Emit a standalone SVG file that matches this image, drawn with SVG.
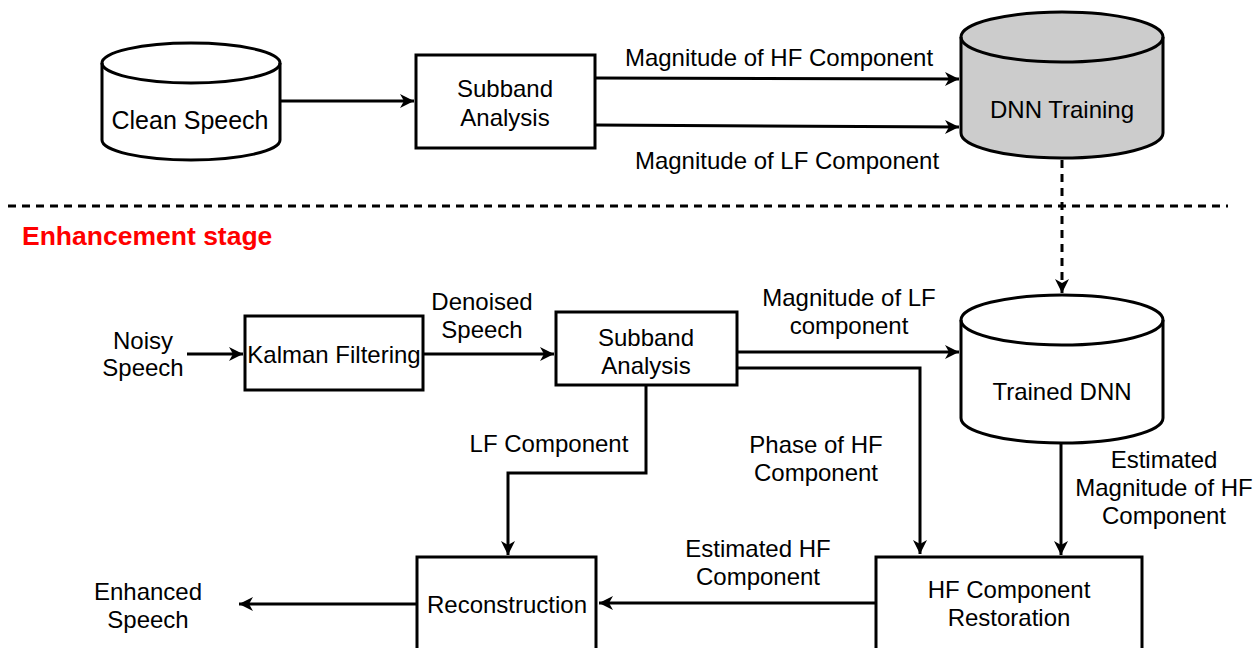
<svg xmlns="http://www.w3.org/2000/svg" width="1260" height="648" viewBox="0 0 1260 648">
<style>
  text { font-family: "Liberation Sans", Arial, sans-serif; font-size: 24px; fill: #000; text-anchor: middle; }
  .box { fill: #fff; stroke: #000; stroke-width: 3; }
  .cyl { fill: #fff; stroke: #000; stroke-width: 3; }
  .grey { fill: #cccccc; }
  .edge { fill: none; stroke: #000; stroke-width: 3; }
  .dash { stroke-dasharray: 8 6; }
  .title { font-weight: bold; fill: #ff0000; font-size: 26.5px; text-anchor: start; }
</style>
<defs>
  <marker id="arr" markerUnits="userSpaceOnUse" markerWidth="16" markerHeight="16" viewBox="0 0 16 16" refX="15" refY="8" orient="auto">
    <path d="M1,1 L15,8 L1,15 L5,8 Z" fill="#000"/>
  </marker>
</defs>
<rect width="1260" height="648" fill="#fff"/>

<line x1="8" y1="206" x2="1228" y2="206" class="edge dash"/>
<text class="title" x="22" y="245">Enhancement stage</text>

<g id="connectors">
  <path class="edge" d="M280,101 L414,101" marker-end="url(#arr)"/>
  <path class="edge" d="M595,78 L959,79" marker-end="url(#arr)"/>
  <path class="edge" d="M595,125 L959,127" marker-end="url(#arr)"/>
  <path class="edge dash" d="M1062,160 L1062,293" marker-end="url(#arr)"/>
  <path class="edge" d="M187,354 L243,354" marker-end="url(#arr)"/>
  <path class="edge" d="M423,354 L554,354" marker-end="url(#arr)"/>
  <path class="edge" d="M737,352 L959,352" marker-end="url(#arr)"/>
  <path class="edge" d="M737,368 L920,368 L920,554" marker-end="url(#arr)"/>
  <path class="edge" d="M646,385 L646,473 L508,473 L508,555" marker-end="url(#arr)"/>
  <path class="edge" d="M1061,443 L1061,555" marker-end="url(#arr)"/>
  <path class="edge" d="M876,603 L599,603" marker-end="url(#arr)"/>
  <path class="edge" d="M416,604 L239,604" marker-end="url(#arr)"/>

  <text x="779" y="66">Magnitude of HF Component</text>
  <text x="787" y="169">Magnitude of LF Component</text>
  <text x="143" y="349">Noisy</text>
  <text x="143" y="376">Speech</text>
  <text x="482" y="310">Denoised</text>
  <text x="482" y="338">Speech</text>
  <text x="849" y="306">Magnitude of LF</text>
  <text x="849" y="334">component</text>
  <text x="549" y="452">LF Component</text>
  <text x="816" y="453">Phase of HF</text>
  <text x="816" y="481">Component</text>
  <text x="1164" y="468">Estimated</text>
  <text x="1164" y="496">Magnitude of HF</text>
  <text x="1164" y="524">Component</text>
  <text x="758" y="557">Estimated HF</text>
  <text x="758" y="585">Component</text>
  <text x="148" y="600">Enhanced</text>
  <text x="148" y="628">Speech</text>
</g>

<g id="clean-speech">
  <path class="cyl" d="M102,63 A89,20 0 0 1 280,63 L280,140 A89,20 0 0 1 102,140 Z"/>
  <path class="edge" d="M102,63 A89,20 0 0 0 280,63"/>
  <text x="190" y="129" style="font-size:25px">Clean Speech</text>
</g>

<g id="subband-top">
  <rect class="box" x="416" y="55" width="179" height="93"/>
  <text x="505" y="97">Subband</text>
  <text x="505" y="126">Analysis</text>
</g>

<g id="dnn-training">
  <path class="cyl grey" d="M961,37 A101,25 0 0 1 1163,37 L1163,133 A101,25 0 0 1 961,133 Z"/>
  <path class="edge" d="M961,37 A101,25 0 0 0 1163,37"/>
  <text x="1062" y="118">DNN Training</text>
</g>

<g id="kalman">
  <rect class="box" x="245" y="316" width="178" height="74"/>
  <text x="334" y="363">Kalman Filtering</text>
</g>

<g id="subband-bottom">
  <rect class="box" x="556" y="312" width="181" height="73"/>
  <text x="646" y="346">Subband</text>
  <text x="646" y="374">Analysis</text>
</g>

<g id="trained-dnn">
  <path class="cyl" d="M961,320 A101,25 0 0 1 1163,320 L1163,418 A101,25 0 0 1 961,418 Z"/>
  <path class="edge" d="M961,320 A101,25 0 0 0 1163,320"/>
  <text x="1062" y="400">Trained DNN</text>
</g>

<g id="reconstruction">
  <rect class="box" x="417" y="557" width="179" height="100"/>
  <text x="507" y="613">Reconstruction</text>
</g>

<g id="hf-restoration">
  <rect class="box" x="876" y="557" width="266" height="100"/>
  <text x="1009" y="598">HF Component</text>
  <text x="1009" y="626">Restoration</text>
</g>
</svg>
